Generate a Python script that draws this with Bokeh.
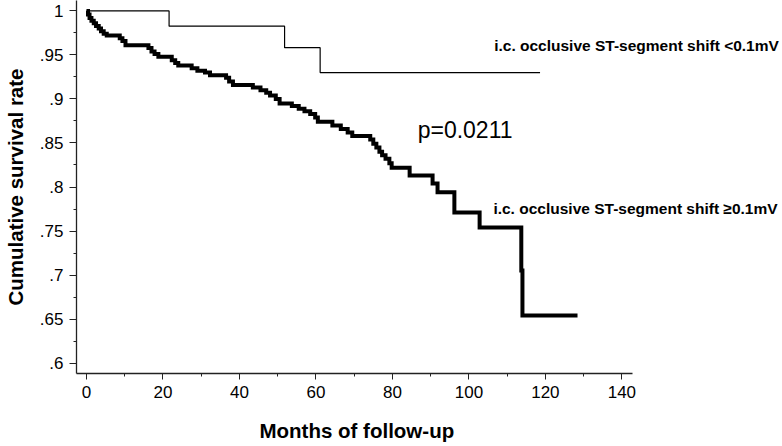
from bokeh.plotting import figure
from bokeh.models import Label, FixedTicker, Range1d, Title
from bokeh.embed import file_html
from bokeh.resources import INLINE

# ---- data ----
# i.c. occlusive ST-segment shift >= 0.1 mV (thick curve)
hi_months = [0, 0.4, 0.8, 1.3, 1.9, 2.5, 3.2, 3.8, 4.5, 5.3, 8.7, 9.4, 10.2,
             16.2, 17.0, 17.8, 18.8, 22.3, 23.2, 24.0, 27.5, 29.0, 31.0, 32.3,
             36.5, 37.3, 38.3, 43.5, 45.5, 47.0, 48.0, 49.5, 50.5, 53.7, 55.5,
             57.0, 58.5, 59.8, 60.5, 64.3, 66.5, 68.3, 69.5, 74.2, 75.0, 75.8,
             76.6, 77.3, 78.2, 79.2, 79.8, 84.5, 90.5, 91.8, 96.2, 102.8, 113.7,
             114.0, 128.4]
hi_surv = [1.0, 0.996, 0.992, 0.989, 0.986, 0.983, 0.980, 0.977, 0.974, 0.972,
           0.969, 0.966, 0.961, 0.958, 0.954, 0.951, 0.948, 0.944, 0.941, 0.938,
           0.935, 0.932, 0.930, 0.927, 0.924, 0.920, 0.916, 0.913, 0.910, 0.907,
           0.904, 0.900, 0.895, 0.892, 0.889, 0.886, 0.883, 0.879, 0.874, 0.870,
           0.866, 0.862, 0.858, 0.854, 0.849, 0.845, 0.840, 0.836, 0.832, 0.827,
           0.822, 0.813, 0.804, 0.794, 0.771, 0.754, 0.705, 0.654, 0.654]

# i.c. occlusive ST-segment shift < 0.1 mV (thin curve)
lo_months = [0, 21.6, 51.8, 61.1, 118.6]
lo_surv = [1.0, 0.9827, 0.9583, 0.930, 0.930]

x_ticks = [0, 20, 40, 60, 80, 100, 120, 140]
x_minor = [10, 30, 50, 70, 90, 110, 130]
y_ticks = [0.6, 0.65, 0.7, 0.75, 0.8, 0.85, 0.9, 0.95, 1.0]
y_tick_labels = [".6", ".65", ".7", ".75", ".8", ".85", ".9", ".95", "1"]
y_minor = [0.625, 0.675, 0.725, 0.775, 0.825, 0.875, 0.925, 0.975]

label_lo = "i.c. occlusive ST-segment shift <0.1mV"
label_hi = "i.c. occlusive ST-segment shift \u22650.1mV"
p_text = "p=0.0211"
x_title = "Months of follow-up"
y_title = "Cumulative survival rate"

FONT = "Liberation Sans"
X_START, X_AXIS_END, X_FRAME_END = -2.61, 142.9, 182.0

p = figure(width=782, height=446, output_backend="svg", toolbar_location=None,
           x_range=Range1d(X_START, X_FRAME_END),
           y_range=Range1d(0.5881, 1.0119),
           min_border_left=74, min_border_right=0, min_border_top=0,
           min_border_bottom=73)
p.grid.visible = False
p.outline_line_color = None
p.background_fill_color = "white"
p.border_fill_color = "white"

p.step(lo_months, lo_surv, mode="after", line_color="black", line_width=1.2)
p.step(hi_months, hi_surv, mode="after", line_color="black", line_width=4,
       line_join="miter")

for ax in (p.xaxis[0], p.yaxis[0]):
    ax.axis_line_color = "#222222"
    ax.axis_line_width = 1.3
    ax.major_tick_line_color = "#222222"
    ax.minor_tick_line_color = "#222222"
    ax.major_tick_in = 0
    ax.minor_tick_in = 0
    ax.minor_tick_out = 3
    ax.major_label_text_font = FONT
    ax.major_label_text_font_size = "17px"
    ax.major_label_text_color = "black"
    ax.axis_label_text_font = FONT
    ax.axis_label_text_font_style = "bold"
    ax.axis_label_text_font_size = "20.5px"
    ax.axis_label_text_color = "black"

p.xaxis.ticker = FixedTicker(ticks=x_ticks, minor_ticks=x_minor)
p.xaxis.bounds = (X_START, X_AXIS_END)
p.xaxis.major_tick_out = 6
p.xaxis.major_label_standoff = 6

p.yaxis.ticker = FixedTicker(ticks=y_ticks, minor_ticks=y_minor)
p.yaxis.major_label_overrides = dict(zip(y_ticks, y_tick_labels))
p.yaxis.axis_label = y_title
p.yaxis.major_tick_out = 7
p.yaxis.major_label_standoff = 6
p.yaxis.axis_label_standoff = 10

# x-axis title centred under the drawn axis (not the whole frame)
p.add_layout(Title(text=x_title, align="left", offset=183, standoff=10,
                   padding=dict(top=11, bottom=0, left=0, right=0),
                   text_font=FONT, text_font_style="bold",
                   text_font_size="20.5px", text_color="black"), "below")

p.add_layout(Label(x=106.6, y=0.9608, text=label_lo, text_font=FONT,
                   text_font_style="bold", text_font_size="15.5px",
                   text_baseline="middle", text_color="black"))
p.add_layout(Label(x=106.4, y=0.7756, text=label_hi, text_font=FONT,
                   text_font_style="bold", text_font_size="15.5px",
                   text_baseline="middle", text_color="black"))
p.add_layout(Label(x=86.6, y=0.8653, text=p_text, text_font=FONT,
                   text_font_size="23px", text_baseline="middle",
                   text_color="black"))

open("out.html", "w").write(file_html(p, INLINE))
